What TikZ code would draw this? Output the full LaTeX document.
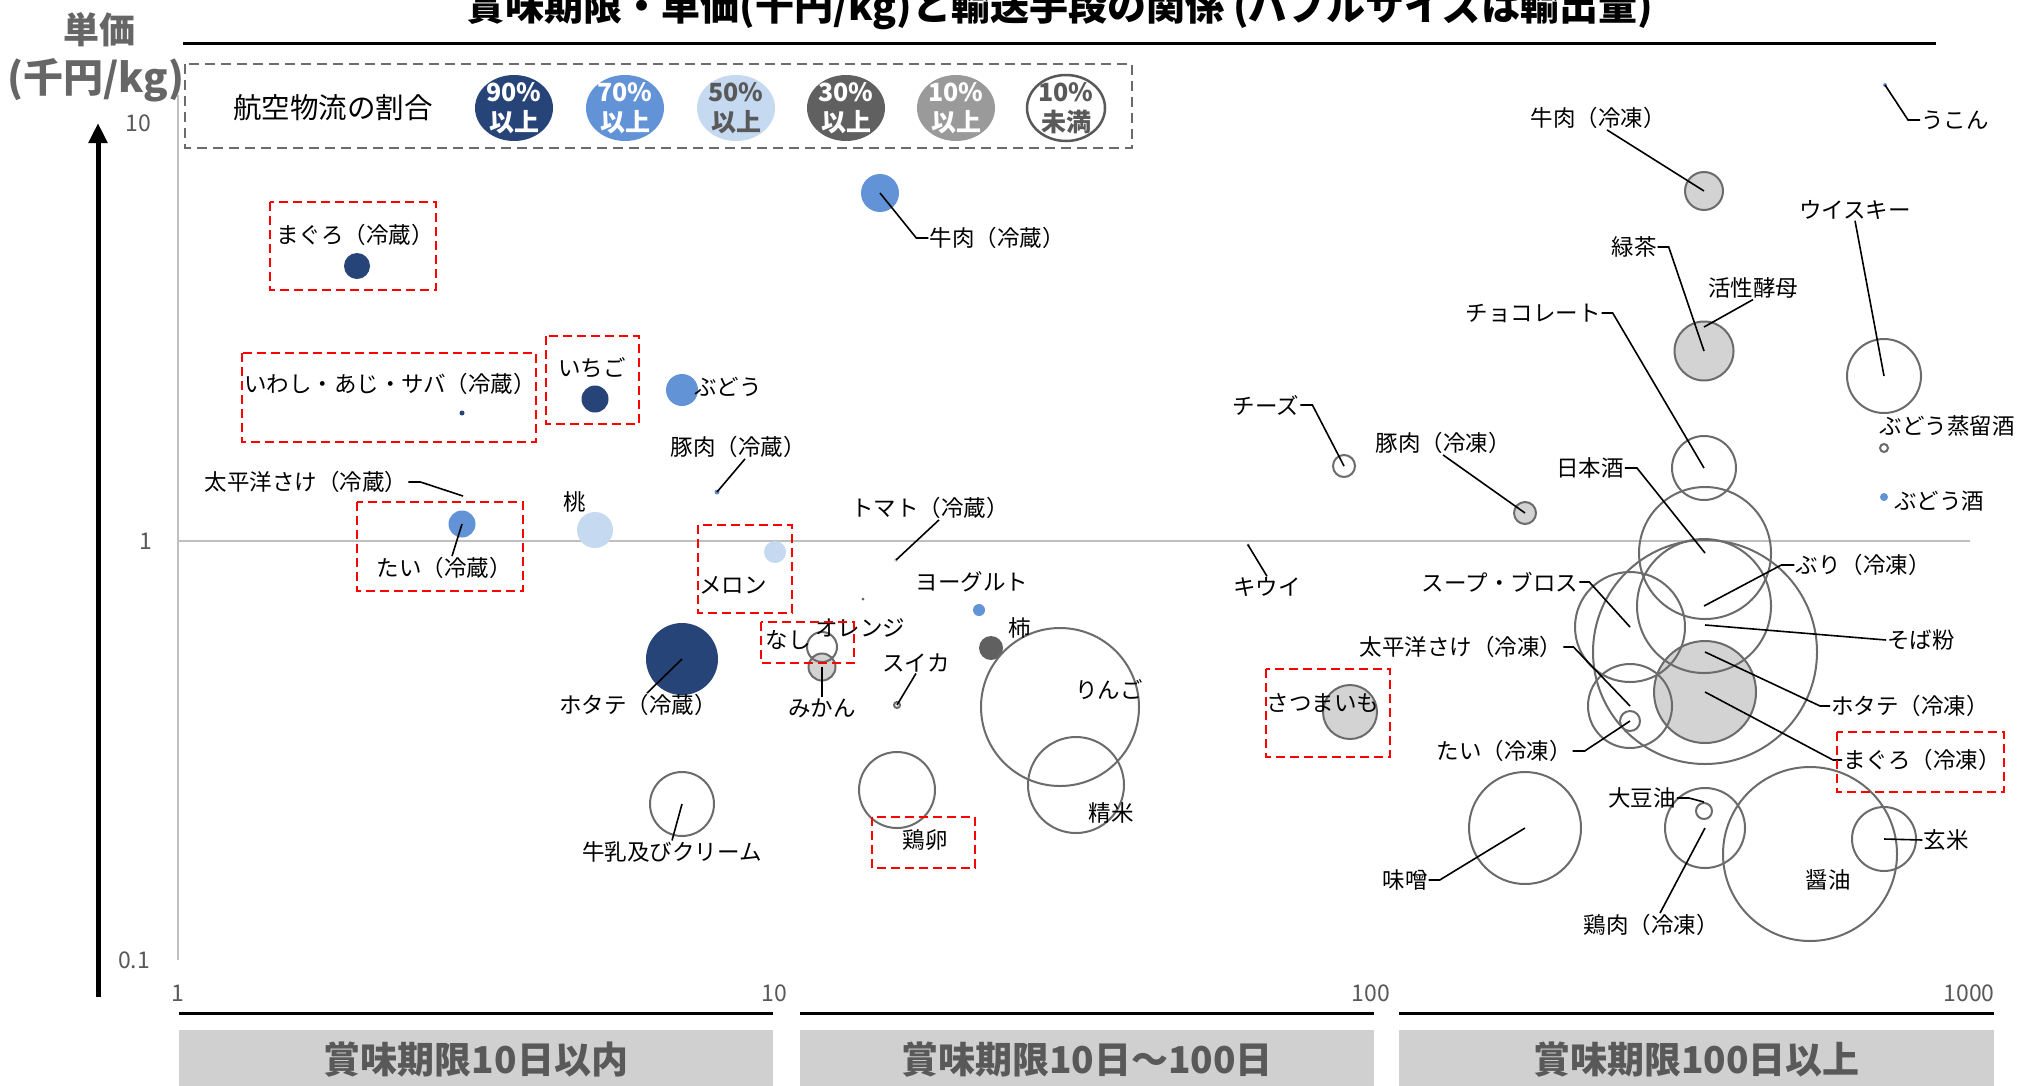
\documentclass[tikz,border=0pt]{standalone}
\usepackage{fontspec}
\setmainfont{Noto Sans CJK JP}
\usetikzlibrary{arrows.meta,shapes.geometric}
\definecolor{c90}{HTML}{264478}
\definecolor{c70}{HTML}{6293D6}
\definecolor{c50}{HTML}{C5D9F1}
\definecolor{c30}{HTML}{606060}
\definecolor{c10}{HTML}{9A9A9A}
\definecolor{cfill}{HTML}{D3D3D3}
\definecolor{cline}{HTML}{6B6B6B}
\definecolor{txtgray}{HTML}{595959}
\definecolor{axgray}{HTML}{BFBFBF}
\definecolor{catgray}{HTML}{D0D0D0}

\begin{document}
\begin{tikzpicture}[x=1pt,y=-1pt]
\tikzset{lbl/.style={font=\fontsize{22.5}{26}\selectfont,inner sep=1pt}}
\tikzset{lead/.style={draw=black,line width=1.6pt}}
\tikzset{b90/.style={circle,inner sep=0pt,fill=c90}}
\tikzset{b70/.style={circle,inner sep=0pt,fill=c70}}
\tikzset{b50/.style={circle,inner sep=0pt,fill=c50}}
\tikzset{b30/.style={circle,inner sep=0pt,fill=c30}}
\tikzset{b10/.style={circle,inner sep=0pt,fill=cfill,draw=cline,line width=2pt}}
\tikzset{b0/.style={circle,inner sep=0pt,draw=cline,line width=2pt}}
\tikzset{hilite/.style={draw=red,line width=2.8pt,dash pattern=on 9pt off 5pt}}
\tikzset{key/.style={ellipse,minimum width=78pt,minimum height=66pt,inner sep=0pt}}
\tikzset{keytxt/.style={font=\bfseries\fontsize{25}{30}\selectfont,align=center,inner sep=0pt}}
\tikzset{tick/.style={font=\fontsize{23}{26}\selectfont,text=txtgray}}
\tikzset{catbox/.style={fill=catgray,minimum height=60pt,inner sep=0pt,text=txtgray,font=\bfseries\fontsize{37}{40}\selectfont}}
\tikzset{catline/.style={draw=black,line width=3pt}}

\fill[white] (0,0) rectangle (2020,1085);
\useasboundingbox (0,0) rectangle (2020,1085);

% title and axes
\node[font=\bfseries\fontsize{39}{42}\selectfont] (title) at (1060,8) {賞味期限・単価(千円/kg)と輸送手段の関係 (バブルサイズは輸出量)};
\draw[line width=3pt] (183,43) -- (1936,43);
\node[font=\bfseries\fontsize{36}{40}\selectfont,text=black!60] (ylab1) at (99,30) {単価};
\node[font=\bfseries\fontsize{40}{44}\selectfont,text=black!60] (ylab2) at (96,80) {(千円/kg)};
\coordinate (ybot) at (98,997);
\coordinate (ytop) at (98,123);
\draw[line width=5pt,-{Triangle[length=20pt,width=18pt]}] (ybot) -- (ytop);
\draw[axgray,line width=2pt] (178,95) -- (178,960);
\draw[axgray,line width=2pt] (178,541) -- (1970,541);
\node[tick] (y10) at (138,123) {10};
\node[tick] (y1) at (146,541) {1};
\node[tick] (y01) at (134,960) {0.1};
\node[tick] (x1) at (178,993) {1};
\node[tick] (x10) at (774,993) {10};
\node[tick] (x100) at (1371,993) {100};
\node[tick] (x1000) at (1969,993) {1000};

% shelf-life bands
\node[catbox,minimum width=594pt] (cat1) at (476,1060) {賞味期限10日以内};
\node[catbox,minimum width=574pt] (cat2) at (1087,1060) {賞味期限10日〜100日};
\node[catbox,minimum width=595pt] (cat3) at (1696.5,1060) {賞味期限100日以上};
\draw[catline] ([yshift=16pt]cat1.north west) -- ([yshift=16pt]cat1.north east);
\draw[catline] ([yshift=16pt]cat2.north west) -- ([yshift=16pt]cat2.north east);
\draw[catline] ([yshift=16pt]cat3.north west) -- ([yshift=16pt]cat3.north east);

% legend
\draw[draw=cline,line width=2.5pt,dash pattern=on 10pt off 6pt] (185,64) rectangle (1132,148);
\node[font=\fontsize{28.5}{31}\selectfont] (legt) at (333,108) {航空物流の割合};
\node[key,fill=c90] (k90) at (514,108) {};
\node[key,fill=c70] (k70) at (625,108) {};
\node[key,fill=c50] (k50) at (736,108) {};
\node[key,fill=c30] (k30) at (846,108) {};
\node[key,fill=c10] (k10) at (956,108) {};
\node[key,fill=white,draw=txtgray,line width=2.5pt] (k0) at (1066,108) {};
\node[keytxt,text=white] at (k90) {90\%\\以上};
\node[keytxt,text=white] at (k70) {70\%\\以上};
\node[keytxt,text=txtgray] at (k50) {50\%\\以上};
\node[keytxt,text=white] at (k30) {30\%\\以上};
\node[keytxt,text=white] at (k10) {10\%\\以上};
\node[keytxt,text=txtgray] at (k0) {10\%\\未満};

% bubbles
\node[b90,minimum size=26pt] (b-maguroC) at (357,266) {};
\node[b90,minimum size=5pt] (b-iwashi) at (462,413) {};
\node[b90,minimum size=27pt] (b-ichigo) at (595,399) {};
\node[b90,minimum size=72pt] (b-hotateC) at (682,659) {};
\node[b70,minimum size=32pt] (b-budo) at (682,390) {};
\node[b70,minimum size=27pt] (b-taiC) at (462,524) {};
\node[b70,minimum size=5pt] (b-butaC) at (717,492) {};
\node[b70,minimum size=38pt] (b-gyuC) at (880,193) {};
\node[b70,minimum size=12pt] (b-yogurt) at (979,610) {};
\node[b70,minimum size=4pt] (b-ukon) at (1885,85) {};
\node[b70,minimum size=8pt] (b-budoshu) at (1884,497) {};
\node[b50,minimum size=36pt] (b-momo) at (595,530) {};
\node[b50,minimum size=22pt] (b-melon) at (775,552) {};
\node[b50,minimum size=4pt] (b-tomato) at (896,560) {};
\node[b30,minimum size=24pt] (b-kaki) at (991,648) {};
\node[b30,minimum size=3pt] (b-orange) at (863,599) {};
\node[b30,minimum size=3pt] (b-kiwi) at (1248,545) {};
\node[b10,minimum size=27pt] (b-mikan) at (822,667) {};
\node[b10,minimum size=54pt] (b-satsuma) at (1350,712) {};
\node[b10,minimum size=38pt] (b-gyuF) at (1704,191) {};
\node[b10,minimum size=59pt] (b-kobo) at (1704,351) {};
\node[b10,minimum size=22pt] (b-butaF) at (1525,513) {};
\node[b10,minimum size=102pt] (b-maguroF) at (1705,692) {};
\node[b0,minimum size=30pt] (b-nashi) at (822,647) {};
\node[b0,minimum size=6pt] (b-suika) at (897,705) {};
\node[b0,minimum size=158pt] (b-ringo) at (1060,707) {};
\node[b0,minimum size=96pt] (b-seimai) at (1076,785) {};
\node[b0,minimum size=76pt] (b-keiran) at (897,790) {};
\node[b0,minimum size=64pt] (b-milk) at (682,804) {};
\node[b0,minimum size=22pt] (b-cheese) at (1344,466) {};
\node[b0,minimum size=74pt] (b-whisky) at (1884,376) {};
\node[b0,minimum size=8pt] (b-jouryu) at (1884,448) {};
\node[b0,minimum size=64pt] (b-choco) at (1704,468) {};
\node[b0,minimum size=132pt] (b-sake) at (1705,553) {};
\node[b0,minimum size=134pt] (b-buri) at (1704,606) {};
\node[b0,minimum size=224pt] (b-hotateF) at (1705,652) {};
\node[b0,minimum size=110pt] (b-soup) at (1630,627) {};
\node[b0,minimum size=84pt] (b-sakeF) at (1630,706) {};
\node[b0,minimum size=20pt] (b-taiF) at (1630,721) {};
\node[b0,minimum size=112pt] (b-miso) at (1525,828) {};
\node[b0,minimum size=16pt] (b-daizu) at (1704,811) {};
\node[b0,minimum size=80pt] (b-toriF) at (1705,828) {};
\node[b0,minimum size=174pt] (b-shoyu) at (1810,854) {};
\node[b0,minimum size=64pt] (b-genmai) at (1884,839) {};
\coordinate (p-soba) at (1705,625);
\coordinate (p-sakeC) at (463,496);

% labels
\node[lbl] (l-maguroC) at (355,235) {まぐろ（冷蔵）};
\node[lbl] (l-iwashi) at (390,384) {いわし・あじ・サバ（冷蔵）};
\node[lbl] (l-ichigo) at (592,368) {いちご};
\node[lbl] (l-budo) at (728,387) {ぶどう};
\node[lbl] (l-butaC) at (738,447) {豚肉（冷蔵）};
\node[lbl] (l-gyuC) at (997,238) {牛肉（冷蔵）};
\node[lbl] (l-sakeC) at (306,482) {太平洋さけ（冷蔵）};
\node[lbl] (l-taiC) at (444,568) {たい（冷蔵）};
\node[lbl] (l-momo) at (575,502) {桃};
\node[lbl] (l-melon) at (733,585) {メロン};
\node[lbl] (l-tomato) at (930,508) {トマト（冷蔵）};
\node[lbl] (l-yogurt) at (972,582) {ヨーグルト};
\node[lbl] (l-nashi) at (788,640) {なし};
\node[lbl] (l-orange) at (860,628) {オレンジ};
\node[lbl] (l-kaki) at (1020,628) {柿};
\node[lbl] (l-mikan) at (822,708) {みかん};
\node[lbl] (l-suika) at (916,663) {スイカ};
\node[lbl] (l-hotateC) at (638,705) {ホタテ（冷蔵）};
\node[lbl] (l-milk) at (672,852) {牛乳及びクリーム};
\node[lbl] (l-keiran) at (925,840) {鶏卵};
\node[lbl] (l-ringo) at (1109,690) {りんご};
\node[lbl] (l-seimai) at (1111,813) {精米};
\node[lbl] (l-cheese) at (1266,405) {チーズ};
\node[lbl] (l-kiwi) at (1267,587) {キウイ};
\node[lbl] (l-satsuma) at (1323,703) {さつまいも};
\node[lbl] (l-butaF) at (1443,443) {豚肉（冷凍）};
\node[lbl] (l-gyuF) at (1598,118) {牛肉（冷凍）};
\node[lbl] (l-ukon) at (1955,120) {うこん};
\node[lbl] (l-whisky) at (1855,210) {ウイスキー};
\node[lbl] (l-ryoku) at (1634,247) {緑茶};
\node[lbl] (l-kobo) at (1753,288) {活性酵母};
\node[lbl] (l-choco) at (1533,313) {チョコレート};
\node[lbl] (l-sake) at (1590,468) {日本酒};
\node[lbl] (l-jouryu) at (1947,426) {ぶどう蒸留酒};
\node[lbl] (l-budoshu) at (1939,501) {ぶどう酒};
\node[lbl] (l-buri) at (1863,565) {ぶり（冷凍）};
\node[lbl] (l-soup) at (1500,582) {スープ・ブロス};
\node[lbl] (l-soba) at (1921,640) {そば粉};
\node[lbl] (l-sakeF) at (1461,647) {太平洋さけ（冷凍）};
\node[lbl] (l-taiF) at (1504,751) {たい（冷凍）};
\node[lbl] (l-hotateF) at (1910,706) {ホタテ（冷凍）};
\node[lbl] (l-maguroF) at (1922,760) {まぐろ（冷凍）};
\node[lbl] (l-daizu) at (1642,798) {大豆油};
\node[lbl] (l-genmai) at (1946,840) {玄米};
\node[lbl] (l-miso) at (1405,880) {味噌};
\node[lbl] (l-shoyu) at (1828,880) {醤油};
\node[lbl] (l-toriF) at (1651,925) {鶏肉（冷凍）};

% leader lines
\draw[lead] (l-sakeC.east) -- ++(12,0) -- (p-sakeC);
\draw[lead] ([xshift=8pt]l-taiC.north) -- (b-taiC.center);
\draw[lead] ([xshift=7pt]l-butaC.south) -- (b-butaC.center);
\draw[lead] (b-gyuC.center) -- ([xshift=-12pt]l-gyuC.west) -- (l-gyuC.west);
\draw[lead] ([xshift=9pt]l-tomato.south) -- (b-tomato.center);
\draw[lead] (l-mikan.north) -- (b-mikan.center);
\draw[lead] (l-suika.south) -- (b-suika.center);
\draw[lead] ([xshift=9pt]l-hotateC.north) -- (b-hotateC.center);
\draw[lead] (l-milk.north) -- (b-milk.center);
\draw[lead] (l-cheese.east) -- ++(12,0) -- (b-cheese.center);
\draw[lead] (l-kiwi.north) -- (b-kiwi.center);
\draw[lead] (l-butaF.south) -- (b-butaF.center);
\draw[lead] ([xshift=9pt]l-gyuF.south) -- (b-gyuF.center);
\draw[lead] (b-ukon.center) -- ([xshift=-12pt]l-ukon.west) -- (l-ukon.west);
\draw[lead] (l-whisky.south) -- (b-whisky.center);
\draw[lead] (l-ryoku.east) -- ++(11,0) -- (b-kobo.center);
\draw[lead] (l-kobo.south) -- ([yshift=24pt]b-kobo.center);
\draw[lead] (l-choco.east) -- ++(11,0) -- (b-choco.center);
\draw[lead] (l-sake.east) -- ++(12,0) -- (b-sake.center);
\draw[lead] (l-buri.west) -- ++(-13,0) -- (b-buri.center);
\draw[lead] (l-soup.east) -- ++(10,0) -- (b-soup.center);
\draw[lead] (l-soba.west) -- (p-soba);
\draw[lead] (l-sakeF.east) -- ++(10,0) -- (b-sakeF.center);
\draw[lead] (l-taiF.east) -- ++(12,0) -- (b-taiF.center);
\draw[lead] (l-hotateF.west) -- ++(-10,0) -- (b-hotateF.center);
\draw[lead] (l-maguroF.west) -- ++(-9,0) -- (b-maguroF.center);
\draw[lead] (l-miso.east) -- ++(11,0) -- (b-miso.center);
\draw[lead] (l-daizu.east) -- ++(12,0) -- (b-daizu.north);
\draw[lead] ([xshift=9pt]l-toriF.north) -- (b-toriF.center);
\draw[lead] (l-genmai.west) -- (b-genmai.center);

% red highlight boxes
\draw[hilite] (270,202) rectangle (436,290);
\draw[hilite] (242,353) rectangle (536,442);
\draw[hilite] (546,336) rectangle (639,424);
\draw[hilite] (357,502) rectangle (523,591);
\draw[hilite] (698,525) rectangle (792,613);
\draw[hilite] (761,622) rectangle (854,663);
\draw[hilite] (872,817) rectangle (975,868);
\draw[hilite] (1266,669) rectangle (1390,757);
\draw[hilite] (1837,732) rectangle (2004,792);
\end{tikzpicture}
\end{document}
